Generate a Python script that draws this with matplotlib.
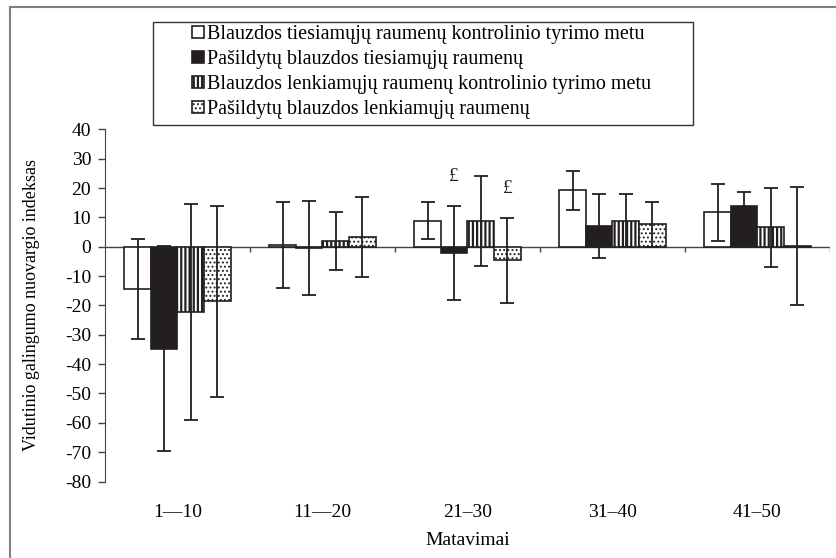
import numpy as np
import matplotlib
matplotlib.use("Agg")
import matplotlib.pyplot as plt
from matplotlib.patches import Patch, Rectangle
from matplotlib.lines import Line2D

# Data
categories = ["1\u201410", "11\u201420", "21\u201330", "31\u201340", "41\u201350"]
series_names = [
    "Blauzdos tiesiamųjų raumenų kontrolinio tyrimo metu",
    "Pašildytų blauzdos tiesiamųjų raumenų",
    "Blauzdos lenkiamųjų raumenų kontrolinio tyrimo metu",
    "Pašildytų blauzdos lenkiamųjų raumenų",
]
tiesiamieji_kontrole = [-14.4, 0.6, 8.8, 19.2, 11.7]
tiesiamieji_sildyti = [-34.7, -0.3, -2.0, 7.2, 13.9]
lenkiamieji_kontrole = [-22.3, 1.9, 8.8, 8.9, 6.6]
lenkiamieji_sildyti = [-18.6, 3.3, -4.7, 7.6, 0.3]
err_tiesiamieji_kontrole = [17.0, 14.6, 6.3, 6.7, 9.8]
err_tiesiamieji_sildyti = [35.0, 16.0, 16.0, 10.9, 4.7]
err_lenkiamieji_kontrole = [36.8, 10.0, 15.4, 9.1, 13.5]
err_lenkiamieji_sildyti = [32.6, 13.5, 14.4, 7.7, 20.2]
# significance marks (series index, category index)
marks = [(1, 2), (3, 2)]

values = [tiesiamieji_kontrole, tiesiamieji_sildyti, lenkiamieji_kontrole, lenkiamieji_sildyti]
errors = [err_tiesiamieji_kontrole, err_tiesiamieji_sildyti,
          err_lenkiamieji_kontrole, err_lenkiamieji_sildyti]

plt.rcParams["font.family"] = ["Liberation Serif", "DejaVu Serif"]
plt.rcParams["axes.unicode_minus"] = False
plt.rcParams["hatch.linewidth"] = 1.6
plt.rcParams["hatch.color"] = "#231f20"

dark = "#231f20"
faces = ["white", dark, "white", "white"]
hatches = [None, None, "||||", "...."]
hatch_lw = [1.6, 1.6, 1.6, 0.9]

fig = plt.figure(figsize=(8.37, 5.58), dpi=100)
W, H = 837, 558
ax = fig.add_axes([105 / W, 1 - 481.5 / H, (830 - 105) / W, (481.5 - 129.3) / H])

x = np.arange(len(categories))
bw = 0.183
for i in range(4):
    pos = x + (i - 1.5) * bw
    bars = ax.bar(pos, values[i], width=bw, color=faces[i], edgecolor=dark,
                  linewidth=1.2, hatch=hatches[i], zorder=2)
    for b in bars:
        if hasattr(b, "set_hatch_linewidth"):
            b.set_hatch_linewidth(hatch_lw[i])
    ax.errorbar(pos, values[i], yerr=errors[i], fmt="none", ecolor=dark,
                elinewidth=1.3, capsize=5, capthick=1.3, zorder=3)

for si, ci in marks:
    top = values[si][ci] + errors[si][ci]
    ax.text(ci + (si - 1.5) * bw, top + 10, "\u00a3", ha="center", va="center",
            fontsize=14, color=dark)

ax.set_xlim(-0.5, len(categories) - 0.5)
ax.set_ylim(-80, 40)
ax.set_yticks(np.arange(-80, 41, 10))
ax.tick_params(axis="y", direction="out", length=5, width=1, color="#444444",
               labelsize=14, pad=5)
ax.set_xticks(x)
ax.set_xticklabels(categories)
ax.tick_params(axis="x", length=0, labelsize=14, pad=16)
for s in ["top", "right", "bottom"]:
    ax.spines[s].set_visible(False)
ax.spines["left"].set_color("#444444")
ax.axhline(0, color="#444444", lw=1, zorder=1)
bounds = np.arange(len(categories) + 1) - 0.5
ax.vlines(bounds[1:], -1.8, 0, color="#444444", lw=1)

ax.set_ylabel("Vidutinio galingumo nuovargio indeksas", fontsize=13, labelpad=18)
ax.set_xlabel("Matavimai", fontsize=14, labelpad=8)

# legend
handles = [Patch(facecolor=faces[i], edgecolor=dark, hatch=hatches[i], linewidth=1.2)
           for i in range(4)]
leg = fig.legend(handles, series_names, loc="upper left",
                 bbox_to_anchor=(192 / W, 1 - 25 / H), frameon=False,
                 fontsize=14.5, handlelength=0.6, handleheight=0.6,
                 handletextpad=0.15, labelspacing=0.3, borderpad=0.0,
                 borderaxespad=0.0)
for i, p in enumerate(leg.get_patches()):
    if hasattr(p, "set_hatch_linewidth"):
        p.set_hatch_linewidth(hatch_lw[i])
fig.add_artist(Rectangle((153 / W, 1 - 125 / H), (693 - 153) / W, (125 - 22) / H,
                         transform=fig.transFigure, fill=False,
                         edgecolor="#333333", lw=1))

# outer frame
fig.add_artist(Line2D([10 / W, 10 / W], [0, 1 - 7 / H], transform=fig.transFigure,
                      color="#808080", lw=1.5))
fig.add_artist(Line2D([10 / W, 1], [1 - 7 / H, 1 - 7 / H], transform=fig.transFigure,
                      color="#808080", lw=1.5))

fig.savefig("out.png", dpi=100)
